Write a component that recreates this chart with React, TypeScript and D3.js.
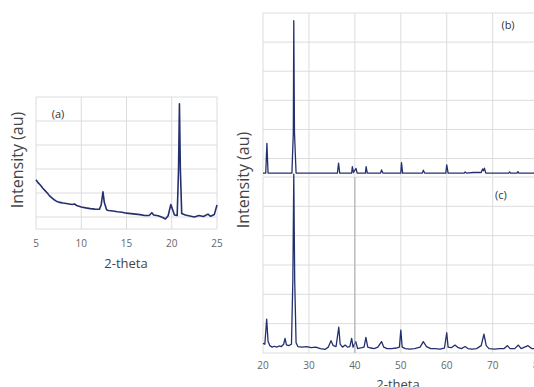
import React, { useEffect, useRef } from 'react';
import * as d3 from 'd3';

// panel (a): low angle scan
const aTheta = [5, 5.25, 5.5, 5.75, 6, 6.25, 6.5, 6.75, 7, 7.25, 7.5, 7.75, 8, 8.5, 9, 9.25, 9.5, 10, 10.5, 11, 11.5, 12, 12.2, 12.4, 12.55, 12.8, 13, 13.5, 14, 14.5, 15, 15.5, 16, 16.5, 17, 17.5, 17.8, 18, 18.5, 19, 19.3, 19.6, 19.9, 20.1, 20.3, 20.6, 20.75, 20.85, 20.95, 21.1, 21.5, 22, 22.5, 23, 23.5, 24, 24.3, 24.7, 25];
const aIntensity = [1.55, 1.42, 1.32, 1.2, 1.1, 1.0, 0.88, 0.8, 0.72, 0.66, 0.62, 0.6, 0.58, 0.55, 0.52, 0.54, 0.48, 0.42, 0.38, 0.35, 0.33, 0.32, 0.5, 1.05, 0.6, 0.3, 0.27, 0.25, 0.22, 0.2, 0.16, 0.14, 0.12, 0.1, 0.06, 0.06, 0.18, 0.08, 0.05, -0.02, -0.08, 0.05, 0.52, 0.3, 0.08, 0.06, 2.0, 4.72, 2.0, 0.15, 0.08, 0.04, 0.0, 0.06, 0.02, 0.12, 0.03, 0.1, 0.5];
const aTicks = [5, 10, 15, 20, 25];

// panel (b)
const bTheta = [20, 20.6, 20.85, 21.1, 26.3, 26.6, 26.7, 26.85, 27.2, 36.2, 36.45, 36.7, 39.3, 39.45, 39.7, 40.25, 40.5, 42.3, 42.45, 42.7, 45.6, 45.8, 46.1, 50.0, 50.15, 50.4, 54.7, 54.9, 55.2, 59.8, 60.0, 60.3, 63.8, 64.0, 64.3, 65.8, 67.5, 67.8, 68.0, 68.2, 68.5, 73.5, 73.7, 73.9, 75.3, 75.5, 75.7, 80];
const bIntensity = [0.1, 0.1, 1.12, 0.1, 0.1, 1.5, 5.34, 1.5, 0.1, 0.1, 0.44, 0.1, 0.1, 0.32, 0.12, 0.26, 0.1, 0.1, 0.32, 0.1, 0.1, 0.21, 0.1, 0.1, 0.46, 0.1, 0.1, 0.2, 0.1, 0.1, 0.38, 0.1, 0.1, 0.14, 0.1, 0.12, 0.12, 0.24, 0.18, 0.27, 0.1, 0.1, 0.14, 0.1, 0.1, 0.15, 0.1, 0.1];

// panel (c)
const cTheta = [20, 20.4, 20.8, 21.1, 21.5, 22, 22.5, 23, 23.5, 24, 24.5, 24.8, 25.1, 25.6, 26.2, 26.5, 26.7, 26.9, 27.2, 27.6, 28.5, 29.5, 30.5, 31.5, 32.5, 33.5, 34.2, 34.8, 35.3, 35.9, 36.5, 36.8, 37.3, 37.9, 38.4, 38.9, 39.3, 39.6, 40.2, 40.6, 41.5, 42.0, 42.4, 42.8, 43.5, 44.2, 45.0, 45.8, 46.3, 47.0, 48.0, 49.0, 49.7, 50.0, 50.3, 51.0, 52.0, 53.0, 54.2, 54.9, 55.6, 56.5, 57.5, 58.5, 59.5, 60.0, 60.3, 61.0, 61.8, 62.5, 63.2, 64.0, 64.6, 65.5, 66.5, 67.5, 68.1, 68.6, 69.2, 70.5, 71.5, 72.5, 73.2, 73.8, 74.8, 75.6, 76.2, 77.7, 78.5, 80];
const cIntensity = [0.33, 0.3, 1.15, 0.4, 0.25, 0.2, 0.23, 0.2, 0.24, 0.22, 0.3, 0.5, 0.28, 0.25, 0.3, 2.5, 6.1, 2.5, 0.35, 0.22, 0.2, 0.22, 0.18, 0.2, 0.15, 0.12, 0.2, 0.42, 0.25, 0.22, 0.88, 0.3, 0.2, 0.27, 0.2, 0.22, 0.5, 0.2, 0.39, 0.15, 0.18, 0.2, 0.53, 0.2, 0.17, 0.15, 0.2, 0.39, 0.2, 0.15, 0.15, 0.17, 0.2, 0.78, 0.2, 0.15, 0.13, 0.15, 0.2, 0.39, 0.22, 0.15, 0.15, 0.13, 0.17, 0.69, 0.2, 0.18, 0.27, 0.18, 0.15, 0.22, 0.15, 0.13, 0.15, 0.25, 0.64, 0.25, 0.15, 0.13, 0.15, 0.15, 0.25, 0.15, 0.15, 0.27, 0.15, 0.25, 0.15, 0.15];
const bcTicks = [20, 30, 40, 50, 60, 70, 80];

const FONT = "'Open Sans', 'DejaVu Sans', sans-serif";
const GRID = '#dcdcdc';
const LINE = '#24306e';

function App() {
    const ref = useRef(null);

    useEffect(() => {
        const svg = d3.select(ref.current);
        svg.selectAll('*').remove();

        // draws grid + trace for one panel
        function panel(x, y, xs, ys, xTicks, yTicks, width) {
            const g = svg.append('g');
            const [x0, x1] = x.range();
            const [y0, y1] = y.range();
            g.selectAll('.v').data(xTicks).enter().append('line')
                .attr('x1', d => x(d)).attr('x2', d => x(d))
                .attr('y1', y1).attr('y2', y0)
                .attr('stroke', GRID).attr('stroke-width', 1);
            g.selectAll('.h').data(yTicks).enter().append('line')
                .attr('x1', x0).attr('x2', x1)
                .attr('y1', d => y(d)).attr('y2', d => y(d))
                .attr('stroke', GRID).attr('stroke-width', 1);
            const line = d3.line()
                .x(d => x(d[0]))
                .y(d => y(d[1]));
            g.append('path')
                .datum(xs.map((v, i) => [v, ys[i]]))
                .attr('d', line)
                .attr('fill', 'none')
                .attr('stroke', LINE)
                .attr('stroke-width', width)
                .attr('stroke-linejoin', 'round');
            return g;
        }

        // (a)
        const xa = d3.scaleLinear().domain([5, 25]).range([36, 217]);
        const ya = d3.scaleLinear().domain([-0.5, 5]).range([229, 97]);
        panel(xa, ya, aTheta, aIntensity, aTicks, [-0.5, 0, 1, 2, 3, 4, 5], 1.6);
        svg.append('g').selectAll('text').data(aTicks).enter().append('text')
            .attr('x', d => xa(d)).attr('y', 247)
            .attr('text-anchor', 'middle')
            .attr('font-size', 10).attr('fill', '#666').attr('font-family', FONT)
            .text(d => d);
        svg.append('text').attr('x', 126).attr('y', 268).attr('text-anchor', 'middle')
            .attr('font-size', 13).attr('fill', '#444').attr('font-family', FONT).text('2-theta');
        svg.append('text').attr('transform', 'translate(23,160) rotate(-90)').attr('text-anchor', 'middle')
            .attr('font-size', 16).attr('fill', '#444').attr('font-family', FONT).text('Intensity (au)');
        svg.append('text').attr('x', 58).attr('y', 118).attr('text-anchor', 'middle')
            .attr('font-size', 11).attr('fill', '#333').attr('font-family', FONT).text('(a)');

        // (b) and (c) share the x scale
        const xbc = d3.scaleLinear().domain([20, 80]).range([263, 538.6]);
        const yb = d3.scaleLinear().domain([0, 5.6]).range([176, 13]);
        const yc = d3.scaleLinear().domain([0, 6]).range([353, 177]);
        panel(xbc, yc, cTheta, cIntensity, bcTicks, [0, 1, 2, 3, 4, 5, 6], 1.3);
        // darker line at 40 in (c)
        svg.append('line').attr('x1', xbc(40)).attr('x2', xbc(40)).attr('y1', 177).attr('y2', 353)
            .attr('stroke', '#a8a8a8').attr('stroke-width', 1);
        panel(xbc, yb, bTheta, bIntensity, bcTicks, [0.6, 1.6, 2.6, 3.6, 4.6, 5.6], 1.3);

        svg.append('g').selectAll('text').data(bcTicks).enter().append('text')
            .attr('x', d => xbc(d)).attr('y', 369)
            .attr('text-anchor', 'middle')
            .attr('font-size', 10).attr('fill', '#666').attr('font-family', FONT)
            .text(d => d);
        svg.append('text').attr('x', 398).attr('y', 389).attr('text-anchor', 'middle')
            .attr('font-size', 13).attr('fill', '#444').attr('font-family', FONT).text('2-theta');
        svg.append('text').attr('transform', 'translate(249,180) rotate(-90)').attr('text-anchor', 'middle')
            .attr('font-size', 16).attr('fill', '#444').attr('font-family', FONT).text('Intensity (au)');
        svg.append('text').attr('x', 508).attr('y', 29).attr('text-anchor', 'middle')
            .attr('font-size', 11).attr('fill', '#333').attr('font-family', FONT).text('(b)');
        svg.append('text').attr('x', 501).attr('y', 199).attr('text-anchor', 'middle')
            .attr('font-size', 11).attr('fill', '#333').attr('font-family', FONT).text('(c)');
    }, []);

    return <svg ref={ref} width="534" height="387"
        style={{ position: 'absolute', left: 0, top: 0, background: '#fff' }}>
    </svg>;
}

export default App;
